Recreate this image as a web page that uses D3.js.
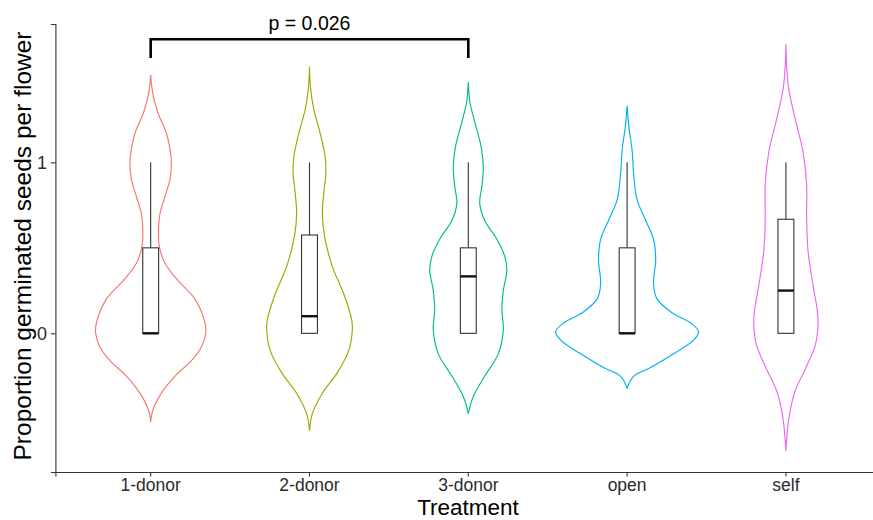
<!DOCTYPE html>
<html>
<head>
<meta charset="UTF-8">
<title>Violin</title>
<script src="https://cdn.jsdelivr.net/npm/d3@7"></script>
<style>
body{margin:0;background:#fff;}
text{font-family:"Liberation Sans",Arial,Helvetica,sans-serif;}
</style>
</head>
<body>
<script>
var width=873, height=520;

// groups
var categories=["1-donor","2-donor","3-donor","open","self"];
var colors=["#F8766D","#A3A500","#00BF7D","#00B0F6","#E76BF3"];

// violin outlines: value levels and relative half-width (1 = widest violin)
var violinY=[
  [1.51,1.40,1.29,1.17,1.05,0.99,0.90,0.80,0.70,0.60,0.51,0.41,0.31,0.20,0.06,0,-0.08,-0.16,-0.25,-0.35,-0.45,-0.52],
  [1.56,1.44,1.31,1.17,1.03,0.94,0.82,0.70,0.57,0.39,0.23,0.08,0.03,-0.10,-0.23,-0.35,-0.47,-0.57],
  [1.47,1.35,1.23,1.09,0.97,0.86,0.76,0.66,0.55,0.45,0.37,0.25,0.14,0.02,-0.12,-0.25,-0.37,-0.47],
  [1.33,1.21,1.07,0.92,0.78,0.66,0.55,0.43,0.29,0.20,0.12,0.06,0.01,-0.04,-0.12,-0.20,-0.25,-0.32],
  [1.69,1.45,1.26,1.06,0.87,0.67,0.48,0.28,0.13,0.05,-0.07,-0.21,-0.34,-0.50,-0.69]
];
var violinW=[
  [0,0.03,0.10,0.22,0.28,0.29,0.27,0.20,0.13,0.11,0.12,0.20,0.38,0.62,0.76,0.77,0.71,0.57,0.34,0.15,0.03,0],
  [0,0.014,0.06,0.15,0.22,0.23,0.20,0.18,0.21,0.32,0.48,0.59,0.60,0.55,0.39,0.18,0.04,0],
  [0,0.024,0.094,0.18,0.21,0.19,0.16,0.23,0.40,0.51,0.54,0.49,0.47,0.49,0.42,0.23,0.07,0],
  [0,0.024,0.07,0.094,0.14,0.26,0.37,0.40,0.37,0.42,0.63,0.89,1.0,0.93,0.65,0.33,0.094,0],
  [0,0.032,0.126,0.24,0.29,0.29,0.31,0.38,0.44,0.45,0.41,0.27,0.126,0.04,0]
];

// boxplot stats
var boxLower=[0,0,0,0,0];
var boxMedian=[0,0.1,0.333,0,0.25];
var boxUpper=[0.5,0.575,0.5,0.5,0.667];
var whiskerHigh=[1,1,1,1,1];

var yTicks=[0,1];

// comparison bracket
var bracketFrom="1-donor", bracketTo="3-donor";
var bracketTop=1.72, bracketTip=1.61;
var bracketLabel="p = 0.026";

var xScale=d3.scaleBand()
  .domain(categories)
  .range([55.4,881.2])
  .paddingInner(0)
  .paddingOuter(0.1);
var yScale=d3.scaleLinear()
  .domain([-0.811,1.809])
  .range([472,24]);

var step=xScale.step();
var cx=function(c){return xScale(c)+xScale.bandwidth()/2;};
var halfW=0.45*step;//widest violin = 0.9 of a band
var boxHalf=0.05*step;

var svg=d3.select("body").append("svg")
  .attr("width",width)
  .attr("height",height);

// violins
var area=d3.area()
  .y(function(d){return yScale(d.v);})
  .x0(function(d){return d.c-d.w*halfW;})
  .x1(function(d){return d.c+d.w*halfW;})
  .curve(d3.curveCatmullRom);

categories.forEach(function(c,i){
  var pts=violinY[i].map(function(v,j){return {v:v,w:violinW[i][j],c:cx(c)};});
  svg.append("path")
    .attr("d",area(pts))
    .attr("fill","white")
    .attr("stroke",colors[i])
    .attr("stroke-width",1.15);
});

// boxes
var gBox=svg.append("g");
categories.forEach(function(c,i){
  var x=cx(c);
  gBox.append("line")
    .attr("x1",x).attr("x2",x)
    .attr("y1",yScale(boxUpper[i])).attr("y2",yScale(whiskerHigh[i]))
    .attr("stroke","#333").attr("stroke-width",1.1);
  gBox.append("rect")
    .attr("x",x-boxHalf).attr("width",2*boxHalf)
    .attr("y",yScale(boxUpper[i]))
    .attr("height",yScale(boxLower[i])-yScale(boxUpper[i]))
    .attr("fill","white").attr("stroke","#333").attr("stroke-width",1.1);
  gBox.append("line")
    .attr("x1",x-boxHalf).attr("x2",x+boxHalf)
    .attr("y1",yScale(boxMedian[i])).attr("y2",yScale(boxMedian[i]))
    .attr("stroke","#111").attr("stroke-width",2.4);
});

// axes
svg.append("g")
  .attr("transform","translate(0,472)")
  .call(d3.axisBottom(xScale).tickSizeOuter(0).tickSize(4.5).tickPadding(2.5))
  .call(function(g){
    g.select(".domain").attr("stroke","#333").attr("stroke-width",1.1);
    g.selectAll(".tick line").attr("stroke","#333").attr("stroke-width",1.1);
    g.selectAll(".tick text").attr("font-size","17.5px").attr("fill","#2b2b2b")
      .attr("font-family","Liberation Sans, Arial, sans-serif");
  });

svg.append("g")
  .attr("transform","translate(55.4,0)")
  .call(d3.axisLeft(yScale).tickValues(yTicks).tickFormat(d3.format("d")).tickSizeOuter(0).tickSize(4.5).tickPadding(4))
  .call(function(g){
    g.select(".domain").attr("stroke","#333").attr("stroke-width",1.1);
    g.selectAll(".tick line").attr("stroke","#333").attr("stroke-width",1.1);
    g.selectAll(".tick text").attr("font-size","18px").attr("fill","#2b2b2b")
      .attr("font-family","Liberation Sans, Arial, sans-serif");
  });

// titles
svg.append("text")
  .attr("x",468).attr("y",515)
  .attr("text-anchor","middle")
  .attr("font-size","22.5px")
  .attr("fill","#000")
  .text("Treatment");
svg.append("text")
  .attr("transform","translate(31,246) rotate(-90)")
  .attr("text-anchor","middle")
  .attr("font-size","24.5px")
  .attr("fill","#000")
  .text("Proportion germinated seeds per flower");

// bracket
var bx1=cx(bracketFrom), bx2=cx(bracketTo);
svg.append("path")
  .attr("d","M"+bx1+","+yScale(bracketTip)+"V"+yScale(bracketTop)+"H"+bx2+"V"+yScale(bracketTip))
  .attr("fill","none")
  .attr("stroke","#000")
  .attr("stroke-width",2.6);
svg.append("text")
  .attr("x",(bx1+bx2)/2).attr("y",yScale(bracketTop)-9)
  .attr("text-anchor","middle")
  .attr("font-size","19.5px")
  .attr("fill","#000")
  .text(bracketLabel);
</script>
</body>
</html>
